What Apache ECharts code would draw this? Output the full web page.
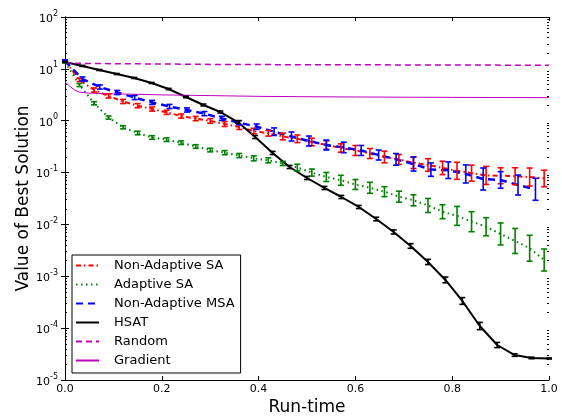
<!DOCTYPE html>
<html>
<head>
<meta charset="utf-8">
<script src="https://cdn.jsdelivr.net/npm/echarts@6/dist/echarts.min.js"></script>
<style>
html,body{margin:0;padding:0;background:#fff;}
#chart{width:562px;height:419px;}
</style>
</head>
<body>
<div id="chart"></div>
<script>
// ---- data ----
const seriesNames = ['Non-Adaptive SA', 'Adaptive SA', 'Non-Adaptive MSA', 'HSAT', 'Random', 'Gradient'];

const xSA = [0, 0.03, 0.06, 0.09, 0.12, 0.15, 0.18, 0.21, 0.24, 0.27, 0.30, 0.33, 0.36, 0.39, 0.42, 0.45, 0.48,
  0.51, 0.54, 0.57, 0.60, 0.63, 0.66, 0.69, 0.72, 0.75, 0.78, 0.81, 0.84, 0.87, 0.90, 0.93, 0.96, 0.99];
const nonAdaptiveSA = [14.2, 6.10, 3.91, 3.00, 2.35, 1.95, 1.68, 1.45, 1.23, 1.10, 0.989, 0.865, 0.757, 0.634,
  0.572, 0.497, 0.448, 0.389, 0.340, 0.298, 0.267, 0.233, 0.200, 0.179, 0.155, 0.140, 0.123, 0.108, 0.0975,
  0.088, 0.087, 0.085, 0.082, 0.077];
// error half-widths in decades (log10)
const errNonAdaptiveSA = [0.02, 0.03, 0.04, 0.04, 0.04, 0.04, 0.04, 0.04, 0.04, 0.042, 0.044, 0.048, 0.048, 0.052,
  0.054, 0.064, 0.073, 0.073, 0.081, 0.081, 0.096, 0.096, 0.112, 0.096, 0.112, 0.122, 0.129, 0.164, 0.154,
  0.174, 0.154, 0.164, 0.174, 0.16];

const adaptiveSA = [13.6, 4.88, 2.17, 1.15, 0.746, 0.580, 0.475, 0.431, 0.377, 0.318, 0.272, 0.242, 0.213, 0.188,
  0.172, 0.150, 0.125, 0.100, 0.0822, 0.0710, 0.0589, 0.0509, 0.0428, 0.0343, 0.0292, 0.0232, 0.0176, 0.0146,
  0.0113, 0.00904, 0.00655, 0.00480, 0.00347, 0.00206];
const errAdaptiveSA = [0.02, 0.03, 0.03, 0.03, 0.03, 0.035, 0.035, 0.035, 0.035, 0.035, 0.035, 0.04, 0.04, 0.048,
  0.048, 0.04, 0.064, 0.068, 0.087, 0.096, 0.096, 0.106, 0.096, 0.106, 0.106, 0.135, 0.135, 0.183, 0.193,
  0.174, 0.212, 0.241, 0.25, 0.212];

const xMSA = [0, 0.036, 0.072, 0.108, 0.144, 0.18, 0.216, 0.252, 0.288, 0.324, 0.36, 0.396, 0.432, 0.468, 0.504,
  0.54, 0.576, 0.612, 0.648, 0.684, 0.72, 0.756, 0.792, 0.828, 0.864, 0.9, 0.936, 0.972];
const nonAdaptiveMSA = [14.2, 6.37, 4.47, 3.50, 2.80, 2.25, 1.88, 1.61, 1.37, 1.11, 0.916, 0.767, 0.614, 0.496,
  0.406, 0.340, 0.305, 0.267, 0.218, 0.180, 0.146, 0.114, 0.111, 0.094, 0.0752, 0.072, 0.0575, 0.0476];
const errNonAdaptiveMSA = [0.02, 0.04, 0.04, 0.04, 0.04, 0.04, 0.04, 0.04, 0.04, 0.04, 0.04, 0.052, 0.073, 0.087,
  0.096, 0.096, 0.102, 0.096, 0.096, 0.112, 0.135, 0.129, 0.16, 0.174, 0.212, 0.16, 0.193, 0.212];

const xHSAT = [0, 0.036, 0.071, 0.107, 0.143, 0.179, 0.214, 0.25, 0.286, 0.321, 0.357, 0.393, 0.429, 0.464, 0.5,
  0.536, 0.571, 0.607, 0.643, 0.679, 0.714, 0.75, 0.786, 0.821, 0.857, 0.893, 0.929, 0.964, 1.0];
const hsat = [13.6, 11.4, 9.5, 7.96, 6.67, 5.34, 4.09, 2.87, 2.01, 1.47, 0.944, 0.485, 0.239, 0.128, 0.0786,
  0.0505, 0.0338, 0.0217, 0.0127, 0.00715, 0.00384, 0.00189, 0.00085, 0.000334, 0.000110, 4.73e-5, 3.03e-5,
  2.66e-5, 2.60e-5];
const errHSAT = [0.01, 0.01, 0.01, 0.01, 0.01, 0.01, 0.012, 0.015, 0.018, 0.02, 0.025, 0.03, 0.03, 0.03, 0.03,
  0.03, 0.03, 0.03, 0.035, 0.04, 0.045, 0.05, 0.055, 0.065, 0.07, 0.05, 0.025, 0.015, 0.01];

const xRandom = [0, 0.01, 0.02, 0.05, 0.1, 0.2, 0.3, 0.4, 0.5, 0.6, 0.7, 0.8, 0.9, 1.0];
const random = [13.5, 13.0, 12.8, 12.7, 12.6, 12.4, 12.2, 12.1, 12.0, 12.0, 11.9, 11.9, 11.8, 11.8];

const xGradient = [0, 0.01, 0.02, 0.03, 0.05, 0.1, 0.2, 0.3, 0.4, 0.5, 0.6, 0.7, 0.8, 0.9, 1.0];
const gradient = [5.6, 4.6, 3.9, 3.55, 3.4, 3.3, 3.15, 3.05, 2.95, 2.9, 2.87, 2.84, 2.82, 2.8, 2.78];

// ---- build ----
const FONT = 'DejaVu Sans';
const pairs = (xs, ys) => xs.map((x, i) => [x, ys[i]]);
const triples = (xs, ys, es) => xs.map((x, i) => [x, ys[i], es[i]]);

const minorVals = [];
for (let e = -5; e < 2; e++) for (let m = 2; m <= 9; m++) minorVals.push(m * Math.pow(10, e));

function errSeries(name, xs, ys, es, color, cap) {
  return {
    type: 'custom', name: name, xAxisIndex: 0, yAxisIndex: 0,
    data: triples(xs, ys, es), encode: {x: 0, y: 1}, silent: true, z: 3,
    renderItem: function (params, api) {
      const x = api.value(0), y = api.value(1), e = api.value(2);
      const f = Math.pow(10, e);
      const pt = api.coord([x, y * f]);
      const pb = api.coord([x, y / f]);
      const st = {stroke: color, lineWidth: 1.6, fill: null};
      return {
        type: 'group',
        children: [
          {type: 'line', shape: {x1: pt[0], y1: pt[1], x2: pb[0], y2: pb[1]}, style: st},
          {type: 'line', shape: {x1: pt[0] - cap, y1: pt[1], x2: pt[0] + cap, y2: pt[1]}, style: st},
          {type: 'line', shape: {x1: pb[0] - cap, y1: pb[1], x2: pb[0] + cap, y2: pb[1]}, style: st}
        ]
      };
    }
  };
}

function lineSeries(name, xs, ys, color, width, dash, z) {
  return {
    type: 'line', name: name, data: pairs(xs, ys), symbol: 'none', showSymbol: false,
    lineStyle: {color: color, width: width, type: dash}, itemStyle: {color: color},
    z: z, xAxisIndex: 0, yAxisIndex: 0
  };
}

const yLabelRich = {
  b: {fontSize: 11, fontFamily: FONT, color: '#000', verticalAlign: 'bottom', lineHeight: 15},
  s: {fontSize: 8, fontFamily: FONT, color: '#000', verticalAlign: 'top', lineHeight: 15}
};

const logAxisBase = {
  type: 'log', logBase: 10, min: 1e-5, max: 100, interval: 1,
  splitLine: {show: false}
};

const option = {
  animation: false,
  backgroundColor: '#fff',
  grid: {left: 65, right: 13, top: 17, bottom: 39, containLabel: false, outerBoundsMode: 'none'},
  legend: {
    data: seriesNames, orient: 'vertical', left: 72, top: 255,
    itemWidth: 23, itemHeight: 13, itemGap: 6,
    padding: [4, 6, 6, 3],
    backgroundColor: '#fff', borderColor: '#000', borderWidth: 1, borderRadius: 0,
    itemStyle: {color: 'rgba(0,0,0,0)', borderColor: 'rgba(0,0,0,0)', borderWidth: 0},
    textStyle: {fontFamily: FONT, fontSize: 13, color: '#000', padding: [0, 0, 0, 10]},
    selectedMode: false
  },
  xAxis: [
    {
      type: 'value', position: 'bottom', min: 0, max: 1, interval: 0.2,
      axisLine: {show: true, lineStyle: {color: '#000', width: 1}},
      axisTick: {show: true, inside: true, length: 4, lineStyle: {color: '#000'}},
      axisLabel: {show: true, margin: 4, fontFamily: FONT, fontSize: 11, color: '#000',
        formatter: v => v.toFixed(1)},
      splitLine: {show: false},
      name: 'Run-time', nameLocation: 'middle', nameGap: 19, nameMoveOverlap: false,
      nameTextStyle: {fontFamily: FONT, fontSize: 17, color: '#000', verticalAlign: 'top'}
    },
    {
      type: 'value', position: 'top', min: 0, max: 1, interval: 0.2,
      axisLine: {show: true, lineStyle: {color: '#000', width: 1}},
      axisTick: {show: true, inside: true, length: 4, lineStyle: {color: '#000'}},
      axisLabel: {show: false}, splitLine: {show: false}
    }
  ],
  yAxis: [
    Object.assign({}, logAxisBase, {
      position: 'left',
      axisLine: {show: true, lineStyle: {color: '#000', width: 1}},
      axisTick: {show: true, inside: true, length: 4, lineStyle: {color: '#000'}},
      axisLabel: {show: true, margin: 7,
        formatter: v => '{b|10}{s|' + Math.round(Math.log10(v)) + '}', rich: yLabelRich},
      name: 'Value of Best Solution', nameLocation: 'middle', nameGap: 33, nameMoveOverlap: false,
      nameTextStyle: {fontFamily: FONT, fontSize: 17, color: '#000'}
    }),
    Object.assign({}, logAxisBase, {
      position: 'right',
      axisLine: {show: true, lineStyle: {color: '#000', width: 1}},
      axisTick: {show: true, inside: true, length: 4, lineStyle: {color: '#000'}},
      axisLabel: {show: false}
    }),
    Object.assign({}, logAxisBase, {
      position: 'left',
      axisLine: {show: false},
      axisTick: {show: true, inside: true, length: 2, customValues: minorVals, lineStyle: {color: '#000'}},
      axisLabel: {show: false}
    }),
    Object.assign({}, logAxisBase, {
      position: 'right',
      axisLine: {show: false},
      axisTick: {show: true, inside: true, length: 2, customValues: minorVals, lineStyle: {color: '#000'}},
      axisLabel: {show: false}
    })
  ],
  series: [
    lineSeries('Non-Adaptive SA', xSA, nonAdaptiveSA, '#ff0000', 2, [5, 3, 1.5, 3], 2),
    errSeries('errNonAdaptiveSA', xSA, nonAdaptiveSA, errNonAdaptiveSA, '#ff0000', 3),
    lineSeries('Adaptive SA', xSA, adaptiveSA, '#008000', 2, [1.5, 3.5], 2),
    errSeries('errAdaptiveSA', xSA, adaptiveSA, errAdaptiveSA, '#008000', 3),
    lineSeries('Non-Adaptive MSA', xMSA, nonAdaptiveMSA, '#0000ff', 2.5, [7, 5], 2),
    errSeries('errNonAdaptiveMSA', xMSA, nonAdaptiveMSA, errNonAdaptiveMSA, '#0000ff', 3),
    lineSeries('HSAT', xHSAT, hsat, '#000000', 2, 'solid', 2),
    errSeries('errHSAT', xHSAT, hsat, errHSAT, '#000000', 3),
    lineSeries('Random', xRandom, random, '#bf00bf', 1.5, [6, 4], 2),
    lineSeries('Gradient', xGradient, gradient, '#bf00bf', 1, 'solid', 2)
  ]
};

const chart = echarts.init(document.getElementById('chart'), null, {renderer: 'canvas'});
chart.setOption(option);
</script>
</body>
</html>
